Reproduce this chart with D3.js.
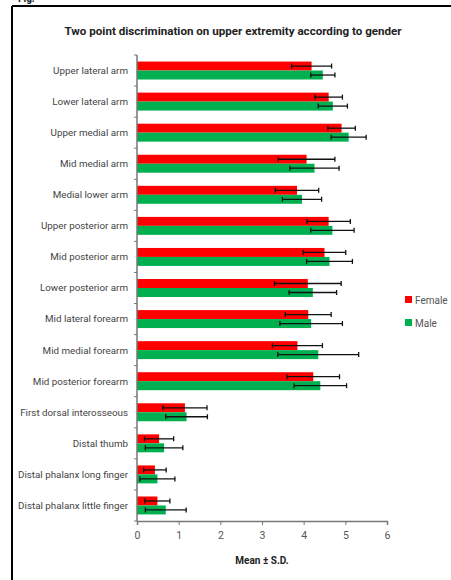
<!DOCTYPE html>
<html>
<head>
<meta charset="utf-8">
<script src="https://cdn.jsdelivr.net/npm/d3@7"></script>
<style>
  body { margin: 0; background: #fff; }
  svg { display: block; }
  text { font-family: "Roboto", "Liberation Sans", sans-serif; }
</style>
</head>
<body>
<div id="chart"></div>
<script>
// ---- data ----
var sites = ["Upper lateral arm", "Lower lateral arm", "Upper medial arm", "Mid medial arm",
  "Medial lower arm", "Upper posterior arm", "Mid posterior arm", "Lower posterior arm",
  "Mid lateral forearm", "Mid medial forearm", "Mid posterior forearm",
  "First dorsal interosseous", "Distal thumb", "Distal phalanx long finger",
  "Distal phalanx little finger"];
var femaleMean = [4.19, 4.60, 4.91, 4.07, 3.84, 4.60, 4.50, 4.10, 4.11, 3.85, 4.23, 1.15, 0.53, 0.43, 0.49];
var femaleSD   = [0.48, 0.33, 0.33, 0.68, 0.52, 0.52, 0.51, 0.80, 0.55, 0.60, 0.63, 0.53, 0.35, 0.27, 0.30];
var maleMean   = [4.46, 4.70, 5.08, 4.26, 3.96, 4.69, 4.62, 4.22, 4.18, 4.35, 4.40, 1.19, 0.65, 0.49, 0.69];
var maleSD     = [0.29, 0.35, 0.42, 0.59, 0.47, 0.52, 0.55, 0.57, 0.75, 0.97, 0.63, 0.50, 0.45, 0.42, 0.49];
var genders = ["Female", "Male"];
var xTicks = [0, 1, 2, 3, 4, 5, 6];

(function() {
  var W = 451, H = 580;
  var svg = d3.select("#chart").append("svg").attr("width", W).attr("height", H);

  // frame of the figure
  svg.append("text").attr("x", 18).attr("y", 2).attr("font-size", 10).attr("font-weight", "bold")
    .attr("fill", "#222").text("Fig.");
  svg.append("line").attr("x1", 12).attr("x2", W).attr("y1", 6).attr("y2", 6)
    .attr("stroke", "#000").attr("stroke-width", 2);
  svg.append("line").attr("x1", 12).attr("x2", 12).attr("y1", 6).attr("y2", H)
    .attr("stroke", "#000").attr("stroke-width", 2);

  // title
  svg.append("text").attr("x", 233).attr("y", 35).attr("text-anchor", "middle")
    .attr("font-size", 11.6).attr("font-weight", "bold").attr("fill", "#222")
    .text("Two point discrimination on upper extremity according to gender");

  // scales
  var x0 = 137, x1 = 387, y0 = 55, y1 = 521;
  var x = d3.scaleLinear().domain([0, 6]).range([x0, x1]);
  var y = d3.scaleBand().domain(sites).range([y0, y1]).padding(0);
  var yg = d3.scaleBand().domain(genders).range([0, y.bandwidth()]).paddingInner(0).paddingOuter(0.73);
  var color = d3.scaleOrdinal().domain(genders).range(["#ff0000", "#00b050"]);

  var rows = [];
  sites.forEach(function(s, i) {
    rows.push({site: s, g: "Female", m: femaleMean[i], sd: femaleSD[i]});
    rows.push({site: s, g: "Male", m: maleMean[i], sd: maleSD[i]});
  });

  // bars
  svg.append("g").selectAll("rect").data(rows).enter().append("rect")
    .attr("x", x(0))
    .attr("y", function(d) { return y(d.site) + yg(d.g); })
    .attr("width", function(d) { return x(d.m) - x(0); })
    .attr("height", yg.bandwidth())
    .attr("fill", function(d) { return color(d.g); });

  // error bars
  var eb = svg.append("g").attr("stroke", "#111").attr("stroke-width", 1.3);
  rows.forEach(function(d) {
    var cy = y(d.site) + yg(d.g) + yg.bandwidth() / 2;
    var a = x(Math.max(0, d.m - d.sd)), b = x(d.m + d.sd);
    eb.append("line").attr("x1", a).attr("x2", b).attr("y1", cy).attr("y2", cy);
    eb.append("line").attr("x1", a).attr("x2", a).attr("y1", cy - 2.5).attr("y2", cy + 2.5);
    eb.append("line").attr("x1", b).attr("x2", b).attr("y1", cy - 2.5).attr("y2", cy + 2.5);
  });

  // x axis
  var xAxis = svg.append("g").attr("transform", "translate(0," + y1 + ")")
    .call(d3.axisBottom(x).tickValues(xTicks).tickFormat(d3.format("d")).tickSize(4).tickSizeOuter(4));
  xAxis.select(".domain").attr("stroke", "#777").attr("stroke-width", 1.5);
  xAxis.selectAll(".tick line").attr("stroke", "#777");
  xAxis.selectAll("text").attr("font-size", 10.5).attr("fill", "#555").attr("dy", "1.05em")
    .style("font-family", "Roboto, sans-serif");

  svg.append("text").attr("x", 262).attr("y", 564).attr("text-anchor", "middle")
    .attr("font-size", 10).attr("font-weight", "bold").attr("fill", "#222")
    .text("Mean \u00B1 S.D.");

  // y axis: category ticks at band boundaries
  var yAxis = svg.append("g");
  yAxis.append("line").attr("x1", x0).attr("x2", x0).attr("y1", y0).attr("y2", y1)
    .attr("stroke", "#777").attr("stroke-width", 1.5);
  yAxis.selectAll("line.tk").data(sites.concat(["end"])).enter().append("line").attr("class", "tk")
    .attr("x1", x0 - 3).attr("x2", x0)
    .attr("y1", function(d, i) { return i < sites.length ? y(d) : y1; })
    .attr("y2", function(d, i) { return i < sites.length ? y(d) : y1; })
    .attr("stroke", "#777");
  yAxis.selectAll("text").data(sites).enter().append("text")
    .attr("x", x0 - 9)
    .attr("y", function(d) { return y(d) + y.bandwidth() / 2; })
    .attr("dy", "0.35em").attr("text-anchor", "end")
    .attr("font-size", 9.8).attr("fill", "#444")
    .text(function(d) { return d; });

  // legend
  var lg = svg.append("g").selectAll("g").data(genders).enter().append("g")
    .attr("transform", function(d, i) { return "translate(405," + (296 + i * 23) + ")"; });
  lg.append("rect").attr("width", 7).attr("height", 7).attr("fill", function(d) { return color(d); });
  lg.append("text").attr("x", 10).attr("y", 4).attr("dy", "0.35em")
    .attr("font-size", 10).attr("fill", "#555").text(function(d) { return d; });
})();
</script>
</body>
</html>
